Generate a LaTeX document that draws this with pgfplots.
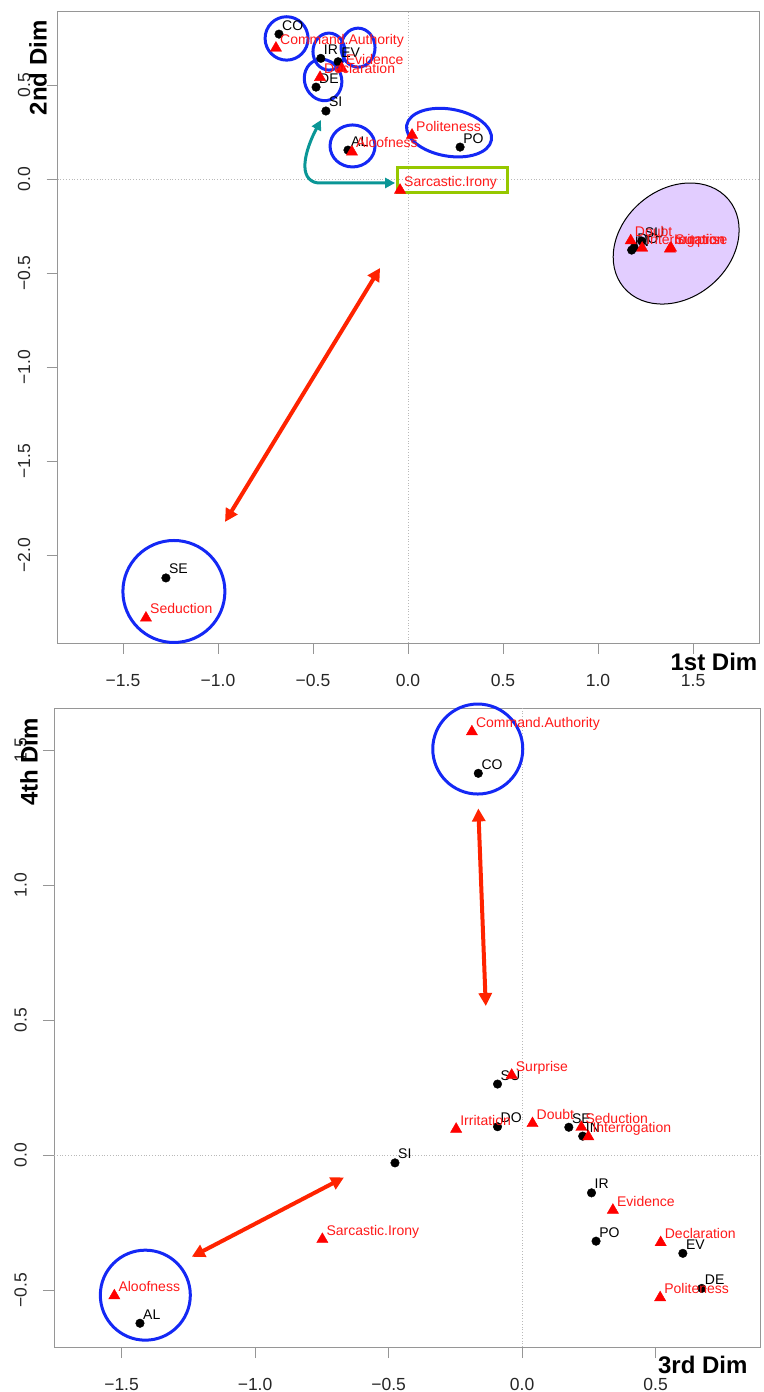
\documentclass[border=0pt]{standalone}
\usepackage{pgfplots}
\pgfplotsset{compat=1.18}
\usepackage{pgfplotstable}
\usepackage{fontspec}
\setmainfont{Liberation Sans}
\usetikzlibrary{arrows.meta}

\definecolor{rred}{RGB}{255,35,0}
\definecolor{lblred}{RGB}{255,25,25}
\definecolor{cblue}{RGB}{20,40,245}
\definecolor{cgreen}{RGB}{150,200,0}
\definecolor{cteal}{RGB}{10,150,150}
\definecolor{cpurp}{RGB}{190,145,255}
\definecolor{axgray}{RGB}{150,150,150}

\newcommand{\lbl}{\fontsize{14}{16}\selectfont}
\newcommand{\ttl}{\fontsize{24}{28}\selectfont\bfseries}

% ---- 1st x 2nd dimension ----
\pgfplotstableread{
x y lab
-0.679 0.771 CO
-0.459 0.642 IR
-0.368 0.624 EV
-0.484 0.489 DE
-0.432 0.362 SI
-0.316 0.154 AL
0.274 0.170 PO
-1.274 -2.122 SE
1.230 -0.330 SU
1.190 -0.365 DO
1.177 -0.378 IN
}\dotsA
\pgfplotstableread{
x y lab
-0.695 0.697 Command.Authority
-0.349 0.589 Evidence
-0.463 0.541 Declaration
-0.295 0.144 Aloofness
0.021 0.234 Politeness
-0.042 -0.059 Sarcastic.Irony
-1.379 -2.335 Seduction
1.172 -0.328 Doubt
1.232 -0.367 Interrogation
1.384 -0.367 Surprise
1.378 -0.372 Irritation
}\trisA
% ---- 3rd x 4th dimension ----
\pgfplotstableread{
x y lab
-0.092 0.263 SU
-0.092 0.105 DO
0.175 0.103 SE
0.227 0.070 IN
-0.476 -0.029 SI
0.260 -0.140 IR
0.277 -0.319 PO
0.602 -0.364 EV
0.673 -0.494 DE
-1.431 -0.623 AL
-0.164 1.414 CO
}\dotsB
\pgfplotstableread{
x y lab
-0.039 0.296 Surprise
-0.247 0.096 Irritation
0.039 0.117 Doubt
0.222 0.103 Seduction
0.248 0.068 Interrogation
-0.748 -0.312 Sarcastic.Irony
0.340 -0.204 Evidence
0.519 -0.324 Declaration
0.517 -0.528 Politeness
-1.527 -0.521 Aloofness
-0.188 1.568 Command.Authority
}\trisB

\tikzset{arr/.style={line width=4pt, rred, {Triangle[length=13pt,width=13pt]}-{Triangle[length=13pt,width=13pt]}}}

\pgfplotsset{
  mdsaxis/.style={
    scale only axis, clip=false,
    axis line style={axgray, line width=0.9pt},
    tick style={axgray, line width=0.9pt},
    tick align=outside, major tick length=11pt,
    tick pos=left,
    ticklabel style={font=\fontsize{17.5}{20}\selectfont, text=black!85},
    xticklabel style={anchor=north, inner sep=0pt},
    yticklabel style={rotate=90, anchor=south, inner sep=0pt},
    xticklabel shift=20pt, yticklabel shift=16pt,
  },
  dots/.style={only marks, mark=*, mark size=4.3pt, black,
    point meta=explicit symbolic, nodes near coords,
    every node near coord/.append style={anchor=base west, xshift=3pt, yshift=4pt,
      inner sep=0pt, font=\lbl, text=black}},
  tris/.style={only marks, mark=triangle*, mark size=6.5pt, red,
    point meta=explicit symbolic, nodes near coords,
    every node near coord/.append style={anchor=base west, xshift=4pt, yshift=4pt,
      inner sep=0pt, font=\lbl, text=lblred}},
}

\begin{document}
\begin{tikzpicture}
\useasboundingbox (0,0) rectangle (763pt,1392pt);

\begin{axis}[mdsaxis,
  at={(57.6pt,749pt)}, anchor=south west,
  width=701.4pt, height=632pt,
  xmin=-1.844, xmax=1.847, ymin=-2.468, ymax=0.894,
  xtick={-1.5,-1,-0.5,0,0.5,1,1.5},
  xticklabels={−1.5,−1.0,−0.5,0.0,0.5,1.0,1.5},
  ytick={-2,-1.5,-1,-0.5,0,0.5},
  yticklabels={−2.0,−1.5,−1.0,−0.5,0.0,0.5},
]
\draw[gray!55, dotted, line width=0.8pt] (axis cs:0,-2.468) -- (axis cs:0,0.894);
\draw[gray!55, dotted, line width=0.8pt] (axis cs:-1.844,0) -- (axis cs:1.847,0);
\addplot[dots] table[x=x,y=y,meta=lab] {\dotsA};
\addplot[tris] table[x=x,y=y,meta=lab] {\trisA};
% annotations
\draw[cblue, line width=3pt] (axis cs:-0.639,0.748) circle [x radius=21.5pt, y radius=21.7pt];
\draw[cblue, line width=3pt] (axis cs:-0.416,0.678) circle [x radius=16pt, y radius=18.5pt];
\draw[cblue, line width=3pt] (axis cs:-0.263,0.699) circle [x radius=17pt, y radius=19.5pt];
\draw[cblue, line width=3pt] (axis cs:-0.447,0.527) circle [x radius=18.5pt, y radius=21pt, rotate=20];
\draw[cblue, line width=3pt] (axis cs:-0.292,0.176) circle [x radius=22.5pt, y radius=21pt];
\draw[cblue, line width=3pt] (axis cs:0.216,0.247) circle [x radius=43pt, y radius=23.5pt, rotate=-10];
\draw[cblue, line width=3pt] (axis cs:-1.232,-2.194) circle [x radius=51pt, y radius=51pt];
\draw[cgreen, line width=3pt] (axis cs:-0.053,0.064) rectangle (axis cs:0.521,-0.074);
\draw[cteal, line width=3pt, {Triangle[length=10pt,width=10pt]}-{Triangle[length=10pt,width=10pt]}]
  (axis cs:-0.458,0.314) .. controls (axis cs:-0.542,0.154) and (axis cs:-0.585,-0.005) .. (axis cs:-0.474,-0.021) -- (axis cs:-0.068,-0.021);
\draw[arr] (axis cs:-0.147,-0.473) -- (axis cs:-0.963,-1.824);
\draw[black, line width=1pt, fill=cpurp, fill opacity=0.45] (axis cs:1.411,-0.343) circle [x radius=68.4pt, y radius=54.3pt, rotate=40];
\node[font=\ttl, rotate=90] at (rel axis cs:-0.028,0.910) {2nd Dim};
\node[font=\ttl] at (rel axis cs:0.9358,-0.030) {1st Dim};
\end{axis}

\begin{axis}[mdsaxis,
  at={(54pt,45pt)}, anchor=south west,
  width=706pt, height=639pt,
  xmin=-1.753, xmax=0.891, ymin=-0.711, ymax=1.656,
  xtick={-1.5,-1,-0.5,0,0.5},
  xticklabels={−1.5,−1.0,−0.5,0.0,0.5},
  ytick={-0.5,0,0.5,1,1.5},
  yticklabels={−0.5,0.0,0.5,1.0,1.5},
]
\draw[gray!55, dotted, line width=0.8pt] (axis cs:0,-0.711) -- (axis cs:0,1.656);
\draw[gray!55, dotted, line width=0.8pt] (axis cs:-1.753,0) -- (axis cs:0.891,0);
\addplot[dots] table[x=x,y=y,meta=lab] {\dotsB};
\addplot[tris] table[x=x,y=y,meta=lab] {\trisB};
\draw[cblue, line width=3pt] (axis cs:-0.166,1.504) circle [radius=45pt];
\draw[cblue, line width=3pt] (axis cs:-1.411,-0.519) circle [radius=45pt];
\draw[arr] (axis cs:-0.164,1.284) -- (axis cs:-0.136,0.552);
\draw[arr] (axis cs:-1.237,-0.377) -- (axis cs:-0.667,-0.083);
\node[font=\ttl, rotate=90] at (rel axis cs:-0.0354,0.9155) {4th Dim};
\node[font=\ttl] at (rel axis cs:0.919,-0.028) {3rd Dim};
\end{axis}
\end{tikzpicture}
\end{document}
